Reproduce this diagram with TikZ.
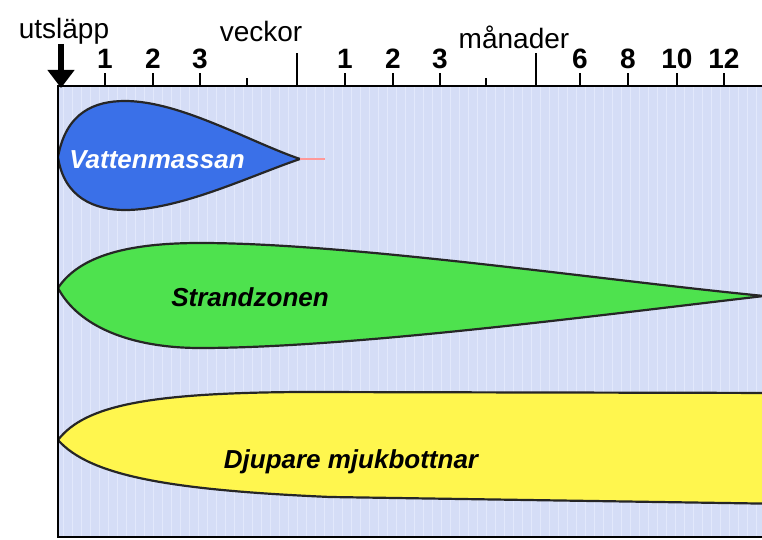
\documentclass[tikz,border=0pt]{standalone}
\usepackage{fontspec}
\setmainfont{Liberation Sans}
\usepackage{xcolor}
\usepackage{tikz}
\usetikzlibrary{arrows.meta, positioning}

\definecolor{bgblue}{RGB}{213,221,246}
\definecolor{gridblue}{RGB}{226,232,251}
\definecolor{dropblue}{RGB}{58,112,232}
\definecolor{zonegreen}{RGB}{78,226,78}
\definecolor{softyellow}{RGB}{255,246,78}

\begin{document}
\begin{tikzpicture}[x=0.5pt, y=-0.5pt]
				% Styles
				\tikzstyle{heading} = [font=\fontsize{14}{16}\selectfont, inner sep=0pt]
				\tikzstyle{number} = [font=\fontsize{14}{16}\selectfont\bfseries, inner sep=0pt]
				\tikzstyle{zonetext} = [font=\fontsize{13}{15}\selectfont\bfseries\itshape, inner sep=0pt]
				\tikzstyle{tick} = [line width=0.9pt]
				\tikzstyle{outline} = [draw=black!85, line width=1.1pt]

				\useasboundingbox (0,0) rectangle (762,540);

				% Background with faint grid
				\fill [bgblue] (58,86) rectangle (762,537);
				\draw [gridblue, line width=0.4pt] (58,86) grid [step=9] (762,537);

				% Zones (clipped to the plot area)
				\begin{scope}
					\clip (58,86) rectangle (762,537);
					\draw [outline, fill=dropblue] (58,157) .. controls (66,112) and (95,101) .. (125,101)
						.. controls (180,101) and (250,142) .. (300,159)
						.. controls (250,176) and (180,210) .. (125,210)
						.. controls (95,210) and (64,198) .. (58,157) -- cycle;
					\draw [red!40, line width=0.6pt] (300,159) -- (325,159);
					\draw [outline, fill=zonegreen] (58,288) .. controls (80,255) and (130,243) .. (200,243)
						.. controls (350,243) and (600,280) .. (764,296)
						.. controls (600,315) and (350,348) .. (200,348)
						.. controls (130,348) and (78,326) .. (58,288) -- cycle;
					\draw [outline, fill=softyellow] (58,440) .. controls (85,405) and (150,393) .. (300,392)
						-- (790,393) -- (790,504) -- (330,497)
						.. controls (170,490) and (90,476) .. (58,440) -- cycle;
				\end{scope}

				% Frame
				\draw [line width=1.3pt] (762,86) -- (58,86) -- (58,537) -- (762,537);

				% Arrow for the release
				\draw [line width=3pt, -{Triangle[width=13pt, length=9pt]}] (61,44) -- (61,88);

				% Ticks
				\draw [tick] (105,86) -- (105,73);
				\draw [tick] (153,86) -- (153,73);
				\draw [tick] (200,86) -- (200,73);
				\draw [tick] (247,86) -- (247,78);
				\draw [tick] (297,86) -- (297,53);
				\draw [tick] (345,86) -- (345,73);
				\draw [tick] (393,86) -- (393,73);
				\draw [tick] (440,86) -- (440,73);
				\draw [tick] (486,86) -- (486,78);
				\draw [tick] (536,86) -- (536,53);
				\draw [tick] (580,86) -- (580,73);
				\draw [tick] (628,86) -- (628,73);
				\draw [tick] (677,86) -- (677,73);
				\draw [tick] (724,86) -- (724,73);

				% Headings
				\node (utslapp) [heading] at (64,31) {utsläpp};
				\node (veckor) [heading] at (261,31) {veckor};
				\node (manader) [heading] at (514,37) {månader};

				% Numbers
				\node (w1) [number] at (105,59) {1};
				\node (w2) [number] at (153,59) {2};
				\node (w3) [number] at (200,59) {3};
				\node (m1) [number] at (345,59) {1};
				\node (m2) [number] at (393,59) {2};
				\node (m3) [number] at (440,59) {3};
				\node (m6) [number] at (580,59) {6};
				\node (m8) [number] at (628,59) {8};
				\node (m10) [number] at (677,59) {10};
				\node (m12) [number] at (724,59) {12};

				% Zone labels
				\node (water) [zonetext, white] at (157,160) {Vattenmassan};
				\node (shore) [zonetext] at (250,297) {Strandzonen};
				\node (deep) [zonetext] at (351,462) {Djupare mjukbottnar};

			\end{tikzpicture}
\end{document}
